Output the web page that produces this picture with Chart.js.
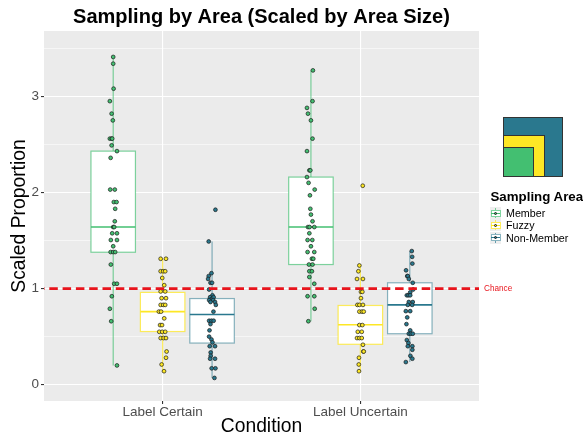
<!DOCTYPE html>
<html><head><meta charset="utf-8">
<script src="https://cdn.jsdelivr.net/npm/chart.js@4"></script>
<style>
html,body{margin:0;padding:0;background:#fff;}
#wrap{position:relative;width:583px;height:437px;overflow:hidden;font-family:"Liberation Sans",Arial,sans-serif;}
#c{position:absolute;left:0;top:0;}
.abs{position:absolute;white-space:nowrap;box-sizing:border-box;}
</style></head><body>
<div id="wrap"><canvas id="c" width="583" height="437"></canvas><div id="legend"></div></div>
<script>
// ---------------- DATA ----------------
const categories = ['Label Certain', 'Label Uncertain'];
const areaNames = ['Member', 'Fuzzy', 'Non-Member'];
const yTickLabels = ['0', '1', '2', '3'];
const chanceLevel = 1;
const chanceLabel = 'Chance';
const chartTitle = 'Sampling by Area (Scaled by Area Size)';
const xTitle = 'Condition';
const yTitle = 'Scaled Proportion';
const legendTitle = 'Sampling Area';

// individual scaled proportions
const memberCertain = [3.41,3.34,3.08,2.95,2.82,2.75,2.56,2.56,2.56,2.49,2.43,2.36,2.03,2.03,1.90,1.90,1.83,1.70,1.64,1.64,1.575,1.575,1.505,1.505,1.44,1.38,1.38,1.38,1.25,1.05,1.05,0.92,0.79,0.66,0.20];
const memberUncertain = [3.27,2.95,2.88,2.82,2.75,2.56,2.43,2.23,2.23,2.16,2.10,2.03,1.97,1.83,1.77,1.70,1.64,1.64,1.64,1.575,1.505,1.505,1.44,1.38,1.38,1.31,1.31,1.25,1.25,1.18,1.18,1.12,1.05,0.92,0.92,0.79,0.66];
const fuzzyCertain = [1.31,1.31,1.18,1.18,1.18,1.11,1.035,0.97,0.97,0.90,0.90,0.83,0.83,0.83,0.76,0.76,0.69,0.62,0.62,0.55,0.55,0.55,0.485,0.485,0.485,0.345,0.28,0.21,0.14];
const fuzzyUncertain = [2.07,1.24,1.18,1.10,1.10,0.966,0.966,0.90,0.83,0.83,0.83,0.76,0.76,0.76,0.62,0.62,0.55,0.55,0.485,0.485,0.485,0.415,0.345,0.345,0.28,0.21,0.14];
const nonMemberCertain = [1.82,1.49,1.16,1.13,1.10,1.06,1.06,0.99,0.93,0.91,0.89,0.91,0.88,0.88,0.86,0.86,0.83,0.76,0.665,0.665,0.665,0.63,0.565,0.50,0.47,0.44,0.40,0.40,0.335,0.30,0.27,0.27,0.17,0.17,0.07];
const nonMemberUncertain = [1.39,1.33,1.26,1.19,1.13,1.13,1.10,1.06,0.99,0.96,0.93,0.93,0.93,0.86,0.86,0.83,0.83,0.765,0.765,0.70,0.63,0.565,0.53,0.53,0.53,0.464,0.433,0.40,0.40,0.363,0.30,0.27,0.235];

// horizontal jitter of each point (axis units)
const memberCertainJitter = [0,0,0.002,-0.017,-0.008,-0.002,-0.017,-0.008,-0.005,-0.008,0.019,-0.013,-0.015,0.008,0.003,0.017,0.010,0.008,0,0.005,-0.005,0.019,-0.012,0.019,0,-0.013,0,0.010,-0.012,0.005,0.019,-0.007,-0.017,-0.010,0.019];
const memberUncertainJitter = [0.010,0.008,-0.020,-0.015,0,0.008,-0.020,-0.008,-0.003,-0.020,-0.012,0.019,-0.005,-0.003,0,0.008,-0.015,-0.007,0.017,-0.008,-0.017,0.007,0,-0.017,0.017,0.005,0.012,-0.010,0.008,-0.008,0.005,-0.008,0.017,-0.017,0.017,0.019,-0.013];
const fuzzyCertainJitter = [-0.010,0.017,-0.010,0.003,0.013,-0.002,0.008,-0.010,0.013,-0.005,0.017,-0.010,0.003,0.013,-0.019,-0.008,0.008,-0.013,-0.003,-0.017,-0.002,0.013,-0.010,0.005,0.017,0.020,0.017,-0.005,0.007];
const fuzzyUncertainJitter = [0.012,-0.005,-0.010,-0.017,0.013,0.003,0.010,0.003,-0.015,-0.005,0.013,-0.005,0.008,0.017,-0.005,0.010,-0.013,0.007,-0.017,-0.005,0.007,0.013,0.015,0.017,-0.007,-0.008,-0.007];
const nonMemberCertainJitter = [0.017,-0.017,-0.003,-0.017,-0.020,-0.008,0,-0.015,0.002,-0.010,-0.003,0.008,-0.015,0.005,0.015,-0.008,0.019,0.007,-0.015,-0.003,0.008,-0.008,-0.013,-0.015,-0.003,0.002,-0.012,0.015,-0.007,-0.007,-0.010,0.015,-0.002,0.017,0.012];
const nonMemberUncertainJitter = [0.010,0.012,0.013,-0.019,-0.013,-0.010,-0.005,0.015,0.017,0.002,-0.015,-0.007,0.002,-0.005,0.015,-0.010,0.012,-0.020,0.002,-0.013,-0.017,0.002,-0.005,0.005,0.015,-0.015,-0.007,-0.010,0.013,0.013,0.003,0.013,-0.020];

// box statistics per condition: [lower whisker, Q1, median, Q3, upper whisker]
const memberBoxes = [[0.20,1.378,1.64,2.43,3.41],[0.66,1.25,1.64,2.16,3.27]];
const fuzzyBoxes = [[0.14,0.553,0.76,0.96,1.31],[0.14,0.42,0.623,0.824,1.24]];
const nonMemberBoxes = [[0.07,0.433,0.73,0.896,1.49],[0.235,0.53,0.83,1.06,1.39]];

// ---------------- STYLE ----------------
const FONT = '"Liberation Sans", Arial, sans-serif';
const fillColors = ['#43BF71', '#FDE725', '#2A788E'];
const lineColors = ['rgba(67,191,113,0.68)', 'rgba(253,231,37,0.75)', 'rgba(42,120,142,0.55)'];
const dodge = [-0.25, 0, 0.25];
const boxHalf = 0.1125;
const chanceColor = '#E8141C';

const pointSets = [
  [memberCertain, memberUncertain], [fuzzyCertain, fuzzyUncertain], [nonMemberCertain, nonMemberUncertain]
];
const jitterSets = [
  [memberCertainJitter, memberUncertainJitter], [fuzzyCertainJitter, fuzzyUncertainJitter], [nonMemberCertainJitter, nonMemberUncertainJitter]
];
const boxSets = [memberBoxes, fuzzyBoxes, nonMemberBoxes];

const datasets = areaNames.map((name, g) => {
  const data = [];
  pointSets[g].forEach((vals, c) => {
    vals.forEach((v, i) => data.push({x: c + 1 + dodge[g] + jitterSets[g][c][i], y: v}));
  });
  return {
    type: 'scatter', label: name, data, order: 1,
    pointRadius: 1.9, pointBorderWidth: 0.7, pointBorderColor: '#1a1a1a',
    pointBackgroundColor: fillColors[g], showLine: false
  };
});
datasets.push({
  type: 'line', label: chanceLabel, order: 0,
  data: [{x: 0.4, y: chanceLevel}, {x: 2.6, y: chanceLevel}],
  borderColor: chanceColor, borderWidth: 2.7, borderDash: [8.5, 4.8], borderDashOffset: 8,
  pointRadius: 0, fill: false
});

const bgPlugin = {
  id: 'panelBg',
  beforeDraw(chart) {
    const {ctx, chartArea: a} = chart;
    ctx.save(); ctx.fillStyle = '#EBEBEB';
    ctx.fillRect(a.left, a.top, a.right - a.left, a.bottom - a.top);
    ctx.restore();
  }
};
const boxPlugin = {
  id: 'boxes',
  beforeDatasetsDraw(chart) {
    const {ctx, scales: {x, y}} = chart;
    boxSets.forEach((boxes, g) => {
      boxes.forEach((b, c) => {
        const cx = c + 1 + dodge[g];
        const xl = x.getPixelForValue(cx - boxHalf), xr = x.getPixelForValue(cx + boxHalf), xm = x.getPixelForValue(cx);
        const [lo, q1, med, q3, hi] = b.map(v => y.getPixelForValue(v));
        ctx.save();
        ctx.strokeStyle = lineColors[g]; ctx.lineWidth = 1.2;
        ctx.beginPath(); ctx.moveTo(xm, q3); ctx.lineTo(xm, hi); ctx.moveTo(xm, q1); ctx.lineTo(xm, lo); ctx.stroke();
        ctx.fillStyle = '#fff'; ctx.fillRect(xl, q3, xr - xl, q1 - q3);
        ctx.strokeRect(xl, q3, xr - xl, q1 - q3);
        ctx.strokeStyle = fillColors[g]; ctx.lineWidth = 1.6;
        ctx.beginPath(); ctx.moveTo(xl, med); ctx.lineTo(xr, med); ctx.stroke();
        ctx.restore();
      });
    });
  }
};
const textPlugin = {
  id: 'texts',
  afterDraw(chart) {
    const {ctx, chartArea: a, scales: {y}} = chart;
    ctx.save();
    ctx.fillStyle = '#000'; ctx.font = 'bold 20px ' + FONT;
    ctx.textAlign = 'center'; ctx.textBaseline = 'middle';
    ctx.fillText(chartTitle, (a.left + a.right) / 2, 17.5);
    ctx.fillStyle = chanceColor; ctx.font = '8.2px ' + FONT;
    ctx.textAlign = 'left';
    ctx.fillText(chanceLabel, a.right + 5, y.getPixelForValue(chanceLevel) + 0.5);
    ctx.restore();
  }
};

const yGridValues = [0, 0.5, 1, 1.5, 2, 2.5, 3, 3.5];
const isMajorY = v => yTickLabels.includes(String(v));

new Chart(document.getElementById('c'), {
  type: 'scatter',
  data: {datasets},
  plugins: [bgPlugin, boxPlugin, textPlugin],
  options: {
    responsive: false, animation: false, events: [],
    devicePixelRatio: 1,
    layout: {padding: {left: 0, top: 31, right: 104, bottom: 0}},
    plugins: {legend: {display: false}, tooltip: {enabled: false}, title: {display: false}},
    scales: {
      x: {
        type: 'linear', min: 0.4, max: 2.6,
        afterBuildTicks(s) { s.ticks = categories.map((_, i) => ({value: i + 1})); },
        afterFit(s) { s.height = 36; },
        ticks: {
          callback: v => categories[Math.round(v) - 1],
          color: '#4D4D4D', font: {family: FONT, size: 13.5}, padding: 0,
          maxRotation: 0, autoSkip: false
        },
        grid: {color: '#ffffff', lineWidth: 1.1, tickLength: 3, tickColor: '#333333'},
        border: {display: false},
        title: {display: true, text: xTitle, color: '#000', font: {family: FONT, size: 19.3, lineHeight: 1}, padding: {top: 0, bottom: 0.5}}
      },
      y: {
        type: 'linear', min: -0.17, max: 3.68,
        afterBuildTicks(s) { s.ticks = yGridValues.map(v => ({value: v})); },
        afterFit(s) { s.width = 44; },
        ticks: {
          callback: v => isMajorY(v) ? yTickLabels[yTickLabels.indexOf(String(v))] : '',
          color: '#4D4D4D', font: {family: FONT, size: 13.5}, padding: 2, autoSkip: false
        },
        grid: {
          color: '#ffffff',
          lineWidth: ctx => isMajorY(ctx.tick.value) ? 1.1 : 0.55,
          tickLength: 3,
          tickColor: ctx => isMajorY(ctx.tick.value) ? '#333333' : 'rgba(0,0,0,0)'
        },
        border: {display: false},
        title: {display: true, text: yTitle, color: '#000', font: {family: FONT, size: 19.3, lineHeight: 1}, padding: {top: 10.5, bottom: 0}}
      }
    }
  }
});

// ---------------- LEGEND (HTML) ----------------
const lg = document.getElementById('legend');
function el(style, text) {
  const d = document.createElement('div');
  d.className = 'abs'; d.style.cssText = style;
  if (text !== undefined) d.textContent = text;
  lg.appendChild(d); return d;
}
// nested area squares
el('left:503px;top:117px;width:60px;height:60px;background:' + fillColors[2] + ';border:1px solid #333;');
el('left:503px;top:135px;width:42px;height:42px;background:' + fillColors[1] + ';border:1px solid #333;');
el('left:503px;top:147px;width:31px;height:30px;background:' + fillColors[0] + ';border:1px solid #333;');
el('left:490.5px;top:189px;font:bold 13.3px ' + FONT + ';line-height:16px;color:#000;', legendTitle);
areaNames.forEach((name, g) => {
  const top = 207 + g * 12.3;
  el('left:490px;top:' + top + 'px;width:11px;height:12px;background:#EFEFEF;');
  el('left:495px;top:' + (top + 1) + 'px;width:1px;height:10px;background:' + fillColors[g] + ';opacity:0.7;');
  el('left:490.5px;top:' + (top + 2.5) + 'px;width:10px;height:7px;background:#fff;border:1px solid ' + lineColors[g] + ';');
  el('left:491px;top:' + (top + 5.5) + 'px;width:9px;height:1px;background:' + fillColors[g] + ';');
  el('left:494px;top:' + (top + 4.5) + 'px;width:3px;height:3px;border-radius:50%;background:' + fillColors[g] + ';border:0.6px solid #1a1a1a;');
  el('left:506px;top:' + top + 'px;font:10.7px ' + FONT + ';line-height:12px;color:#000;', name);
});
</script>
</body></html>
